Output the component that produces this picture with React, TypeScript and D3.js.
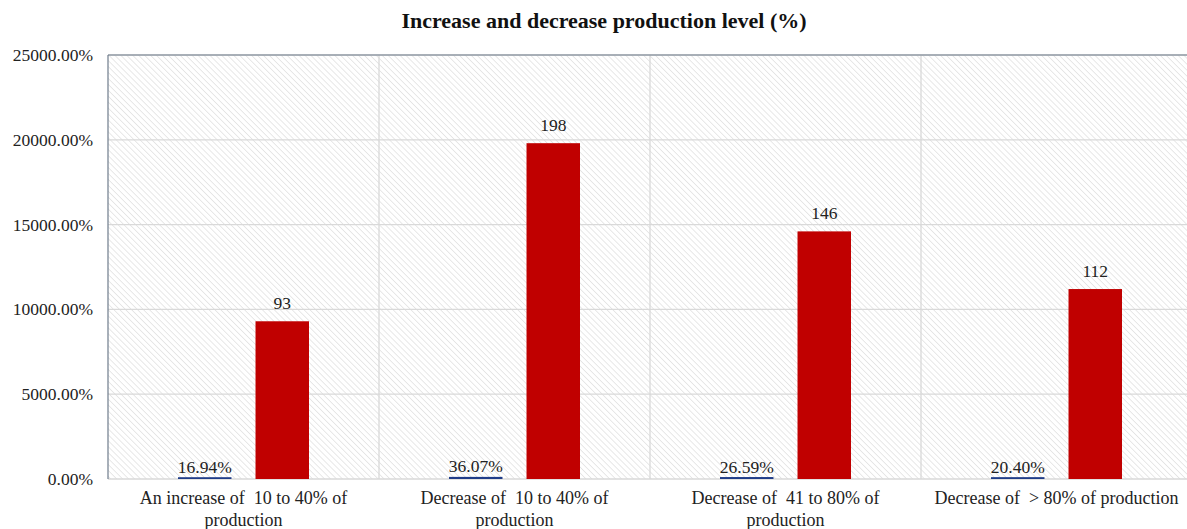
import React, { useEffect, useRef } from 'react'
import * as d3 from 'd3'

const categories = [
  ['An increase of  10 to 40% of', 'production'],
  ['Decrease of  10 to 40% of', 'production'],
  ['Decrease of  41 to 80% of', 'production'],
  ['Decrease of  > 80% of production'],
]
const shareValues = [0.1694, 0.3607, 0.2659, 0.204]
const countValues = [93, 198, 146, 112]
const yTicks = [0, 50, 100, 150, 200, 250]

const W = 1187
const H = 529
const margin = { top: 55, right: -5, bottom: 50, left: 108 }
const font = "'Liberation Serif', 'DejaVu Serif', serif"

export default function App() {
  const ref = useRef<SVGSVGElement>(null)

  useEffect(() => {
    const svg = d3.select(ref.current)
    svg.selectAll('*').remove()

    const innerW = W - margin.left - margin.right
    const innerH = H - margin.top - margin.bottom

    const defs = svg.append('defs')
    const pat = defs.append('pattern')
      .attr('id', 'hatch')
      .attr('width', 4.2)
      .attr('height', 4.2)
      .attr('patternUnits', 'userSpaceOnUse')
      .attr('patternTransform', 'rotate(-45)')
    pat.append('rect').attr('width', 4.2).attr('height', 4.2).attr('fill', '#ffffff')
    pat.append('line')
      .attr('x1', 0).attr('y1', 0).attr('x2', 0).attr('y2', 4.2)
      .attr('stroke', '#dcdcdc').attr('stroke-width', 1.3)

    svg.append('text')
      .attr('x', 604)
      .attr('y', 28)
      .attr('text-anchor', 'middle')
      .style('font-family', font)
      .attr('font-weight', 'bold')
      .attr('font-size', 22)
      .attr('fill', '#111')
      .text('Increase and decrease production level (%)')

    const g = svg.append('g').attr('transform', `translate(${margin.left},${margin.top})`)

    const x0 = d3.scaleBand<number>()
      .domain(d3.range(categories.length))
      .range([0, innerW])
    const x1 = d3.scaleBand<string>()
      .domain(['share', 'count'])
      .range([70, x0.bandwidth() - 70])
      .paddingInner(0.31)
    const y = d3.scaleLinear().domain([0, 250]).range([innerH, 0])

    g.append('rect')
      .attr('width', innerW)
      .attr('height', innerH)
      .attr('fill', 'url(#hatch)')

    // gridlines
    g.selectAll('line.grid')
      .data(yTicks.slice(1))
      .enter()
      .append('line')
      .attr('class', 'grid')
      .attr('x1', 0).attr('x2', innerW)
      .attr('y1', d => y(d)).attr('y2', d => y(d))
      .attr('stroke', '#d9d9d9')
      .attr('stroke-width', 1.3)

    g.selectAll('line.sep')
      .data(d3.range(1, categories.length))
      .enter()
      .append('line')
      .attr('class', 'sep')
      .attr('x1', d => x0(d)!).attr('x2', d => x0(d)!)
      .attr('y1', 0).attr('y2', innerH)
      .attr('stroke', '#d9d9d9')
      .attr('stroke-width', 1.3)

    g.append('line')
      .attr('x1', 0).attr('x2', innerW)
      .attr('y1', innerH).attr('y2', innerH)
      .attr('stroke', '#d9d9d9')
      .attr('stroke-width', 1.5)

    g.append('line')
      .attr('x1', 0).attr('x2', innerW)
      .attr('y1', 0).attr('y2', 0)
      .attr('stroke', '#6f7c8c')
      .attr('stroke-width', 1.2)
    g.append('line')
      .attr('x1', 0).attr('x2', 0)
      .attr('y1', 0).attr('y2', innerH)
      .attr('stroke', '#6f7c8c')
      .attr('stroke-width', 1.2)

    // y tick labels
    g.selectAll('text.ytick')
      .data(yTicks)
      .enter()
      .append('text')
      .attr('x', -15)
      .attr('y', d => y(d) + 6)
      .attr('text-anchor', 'end')
      .style('font-family', font)
      .attr('font-size', 17.5)
      .attr('fill', '#222')
      .text(d => d3.format('.2%')(d))

    // blue share bars
    g.selectAll('rect.share')
      .data(shareValues)
      .enter()
      .append('rect')
      .attr('x', (d, i) => x0(i)! + x1('share')!)
      .attr('width', x1.bandwidth())
      .attr('y', d => y(d) - 1.5)
      .attr('height', d => innerH - y(d) + 1.5)
      .attr('fill', '#1f3c88')

    g.selectAll('text.share')
      .data(shareValues)
      .enter()
      .append('text')
      .attr('x', (d, i) => x0(i)! + x1('share')! + x1.bandwidth() / 2)
      .attr('y', d => y(d) - 6)
      .attr('text-anchor', 'middle')
      .style('font-family', font)
      .attr('font-size', 17.5)
      .attr('fill', '#222')
      .text(d => d3.format('.2%')(d))

    // red count bars
    g.selectAll('rect.count')
      .data(countValues)
      .enter()
      .append('rect')
      .attr('x', (d, i) => x0(i)! + x1('count')!)
      .attr('width', x1.bandwidth())
      .attr('y', d => y(d))
      .attr('height', d => innerH - y(d))
      .attr('fill', '#c00000')

    g.selectAll('text.count')
      .data(countValues)
      .enter()
      .append('text')
      .attr('x', (d, i) => x0(i)! + x1('count')! + x1.bandwidth() / 2)
      .attr('y', d => y(d) - 12)
      .attr('text-anchor', 'middle')
      .style('font-family', font)
      .attr('font-size', 17.5)
      .attr('fill', '#222')
      .text(d => d)

    // category labels
    const cat = g.selectAll('text.cat')
      .data(categories)
      .enter()
      .append('text')
      .attr('x', (d, i) => x0(i)! + x0.bandwidth() / 2)
      .attr('y', innerH + 25)
      .attr('text-anchor', 'middle')
      .style('font-family', font)
      .style('white-space', 'pre')
      .attr('font-size', 18)
      .attr('fill', '#222')
    cat.selectAll('tspan')
      .data(d => d)
      .enter()
      .append('tspan')
      .attr('x', function () { return (this.parentNode as SVGTextElement).getAttribute('x') })
      .attr('dy', (d, i) => (i === 0 ? 0 : 22))
      .text(d => d)
  }, [])

  return (
    <svg ref={ref} width={W} height={H} style={{ position: 'absolute', left: 0, top: 0, background: '#fff' }} />
  )
}
